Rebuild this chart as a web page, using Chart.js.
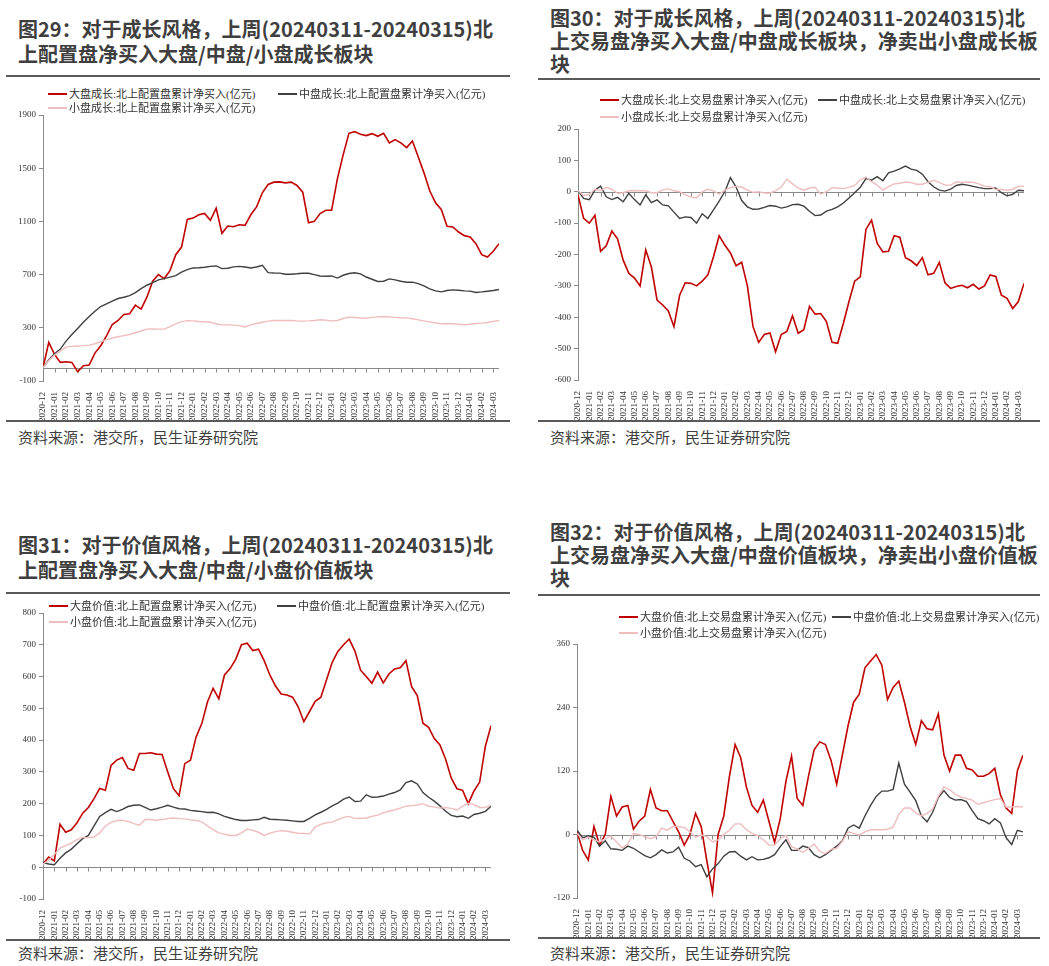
<!DOCTYPE html>
<html>
<head>
<meta charset="utf-8">
<script src="https://cdn.jsdelivr.net/npm/chart.js@4.4.1/dist/chart.umd.min.js"></script>
<style>
  html, body { margin: 0; padding: 0; background: #fff; }
  body { width: 1049px; height: 966px; position: relative; overflow: hidden; font-family: "Noto Sans CJK SC", sans-serif; }
  .title { position: absolute; font-weight: bold; font-size: 20px; color: #3f3f3f; white-space: nowrap; }
  .rule { position: absolute; height: 2px; background: #5a5a5a; }
  .src { position: absolute; font-size: 15px; line-height: 20px; color: #404040; white-space: nowrap; }
  .leg { position: absolute; font-family: "Liberation Serif", "Noto Sans CJK SC", serif; font-size: 11px; line-height: 14px; color: #333; white-space: nowrap; }
  .leg i { display: inline-block; width: 19px; height: 2px; vertical-align: middle; margin-right: 2px; position: relative; top: -1px; }
  canvas { position: absolute; }
</style>
</head>
<body>

<div class="title" style="left:18px;top:16px;line-height:25px">图29：对于成长风格，上周(20240311-20240315)北<br>上配置盘净买入大盘/中盘/小盘成长板块</div>
<div class="rule" style="left:6px;top:75px;width:504px"></div>
<div class="rule" style="left:6px;top:420px;width:504px"></div>
<div class="src" style="left:18px;top:427px">资料来源：港交所，民生证券研究院</div>

<div class="title" style="left:550px;top:6px;line-height:23px">图30：对于成长风格，上周(20240311-20240315)北<br>上交易盘净买入大盘/中盘成长板块，净卖出小盘成长板<br>块</div>
<div class="rule" style="left:538px;top:78px;width:502px"></div>
<div class="rule" style="left:538px;top:420px;width:502px"></div>
<div class="src" style="left:550px;top:427px">资料来源：港交所，民生证券研究院</div>

<div class="title" style="left:18px;top:532px;line-height:25px">图31：对于价值风格，上周(20240311-20240315)北<br>上配置盘净买入大盘/中盘/小盘价值板块</div>
<div class="rule" style="left:6px;top:592px;width:504px"></div>
<div class="rule" style="left:6px;top:939px;width:504px"></div>
<div class="src" style="left:18px;top:943px">资料来源：港交所，民生证券研究院</div>

<div class="title" style="left:550px;top:520px;line-height:23px">图32：对于价值风格，上周(20240311-20240315)北<br>上交易盘净买入大盘/中盘价值板块，净卖出小盘价值板<br>块</div>
<div class="rule" style="left:538px;top:594px;width:502px"></div>
<div class="rule" style="left:538px;top:937px;width:502px"></div>
<div class="src" style="left:550px;top:943px">资料来源：港交所，民生证券研究院</div>

<canvas id="c1" width="510" height="315" style="left:0;top:105px"></canvas>
<canvas id="c2" width="510" height="301" style="left:530px;top:119px"></canvas>
<canvas id="c3" width="510" height="337" style="left:0;top:603px"></canvas>
<canvas id="c4" width="510" height="304" style="left:530px;top:634px"></canvas>

<script>
// month tick labels, data points are twice a month
const months = ['2020-12','2021-01','2021-02','2021-03','2021-04','2021-05','2021-06','2021-07','2021-08','2021-09','2021-10','2021-11','2021-12',
  '2022-01','2022-02','2022-03','2022-04','2022-05','2022-06','2022-07','2022-08','2022-09','2022-10','2022-11','2022-12',
  '2023-01','2023-02','2023-03','2023-04','2023-05','2023-06','2023-07','2023-08','2023-09','2023-10','2023-11','2023-12',
  '2024-01','2024-02','2024-03'];

// 图29 成长 配置盘
const growthAllocLarge = [0,190,100,40,45,40,-30,15,20,110,
  165,240,325,355,400,405,470,440,530,650,
  700,670,730,850,907,1115,1125,1150,1160,1108,
  1200,1010,1065,1060,1075,1070,1150,1209,1315,1378,
  1395,1397,1390,1395,1370,1320,1090,1100,1159,1184,
  1184,1420,1600,1762,1775,1755,1745,1760,1740,1762,
  1690,1715,1690,1655,1705,1586,1465,1330,1240,1190,
  1063,1058,1020,993,983,932,850,832,875,932];
const growthAllocMid = [0,60,105,140,200,250,295,342,385,425,
  460,480,500,520,530,542,565,595,620,640,
  660,670,681,692,719,738,750,752,755,762,
  765,745,748,758,762,757,750,757,770,715,
  712,711,703,703,706,710,710,700,690,688,
  690,674,695,708,714,706,682,665,648,650,
  668,660,650,643,643,632,615,592,578,570,
  580,585,582,578,576,566,570,575,580,588];
const growthAllocSmall = [0,55,95,125,155,160,163,166,170,180,
  195,211,223,233,241,250,263,276,290,292,
  290,290,309,330,346,354,352,347,345,342,
  330,322,322,320,316,306,322,332,342,350,
  355,355,355,355,352,350,352,355,360,358,
  352,355,370,380,378,374,372,378,382,385,
  382,378,376,375,368,360,352,345,336,330,
  332,330,327,323,327,332,335,340,348,355];

// 图30 成长 交易盘
const growthTradeLarge = [-10,-85,-100,-75,-190,-172,-125,-150,-218,-260,
  -275,-300,-185,-240,-345,-361,-380,-430,-330,-290,
  -292,-300,-285,-265,-207,-140,-170,-195,-236,-225,
  -300,-430,-480,-455,-450,-510,-455,-445,-395,-451,
  -440,-365,-390,-388,-414,-480,-483,-420,-350,-285,
  -271,-120,-90,-165,-192,-190,-140,-145,-210,-220,
  -235,-210,-265,-260,-225,-290,-308,-302,-298,-306,
  -295,-310,-300,-265,-270,-330,-340,-372,-350,-292];
const growthTradeMid = [3,-21,-25,5,18,-16,-25,-18,-32,-5,
  -25,-42,-10,-35,-26,-42,-45,-65,-85,-80,
  -82,-100,-70,-85,-58,-30,0,45,15,-28,
  -48,-56,-55,-50,-44,-46,-52,-48,-41,-40,
  -46,-62,-76,-74,-62,-56,-48,-36,-20,-3,
  14,42,37,48,35,60,66,73,82,72,
  68,56,32,16,5,2,8,20,24,21,
  17,13,10,10,12,-3,-13,-8,5,3];
const growthTradeSmall = [3,-12,-8,8,3,14,8,-5,-3,3,
  4,3,3,-3,-3,6,9,3,0,-10,
  -17,-20,0,8,3,-8,5,13,17,15,
  5,-2,0,-4,-4,3,15,40,25,12,
  5,12,14,-8,0,13,12,10,14,20,
  38,47,32,21,5,16,25,27,31,29,
  24,24,30,36,30,21,21,31,30,31,
  30,25,18,16,7,8,4,8,17,18];

// 图31 价值 配置盘
const valueAllocLarge = [10,32,20,135,110,118,140,170,188,216,
  248,242,320,337,345,311,305,358,358,360,
  356,355,300,247,225,326,337,410,452,520,
  563,530,605,625,655,700,705,682,686,650,
  605,570,545,542,535,505,458,490,522,535,
  590,645,679,700,718,680,620,600,579,614,
  580,608,624,628,650,568,540,453,440,405,
  385,340,280,247,242,200,240,268,380,445];
const valueAllocMid = [15,10,8,28,45,57,74,90,100,130,
  160,172,182,175,182,191,195,196,188,180,
  184,189,195,189,184,183,179,177,175,172,
  173,168,160,155,150,147,147,149,150,157,
  151,150,149,148,146,144,144,154,165,173,
  182,193,202,214,221,207,208,228,220,221,
  224,230,235,243,266,272,262,235,220,208,
  193,176,163,159,161,154,166,170,176,192];
const valueAllocSmall = [10,22,40,60,68,76,87,94,93,95,
  108,130,141,147,148,144,137,132,150,150,
  148,150,153,155,153,152,149,147,143,130,
  118,108,104,100,100,108,120,116,110,100,
  107,112,115,113,110,107,106,105,126,135,
  140,142,150,157,160,153,154,155,160,164,
  171,176,180,186,192,194,196,200,192,190,
  186,188,185,180,192,201,197,188,188,195];

// 图32 价值 交易盘
const valueTradeLarge = [5,-30,-48,15,-20,0,72,35,52,55,
  10,25,35,85,50,45,45,25,5,-20,
  0,40,15,-50,-110,0,35,110,170,145,
  90,55,42,65,25,-15,30,100,148,68,
  55,110,160,175,170,140,95,150,205,250,
  265,315,328,340,320,255,278,290,250,204,
  170,215,200,198,228,150,120,150,150,125,
  122,110,110,115,125,75,50,40,120,150];
const valueTradeMid = [8,-6,-3,-5,-22,-12,-27,-28,-30,-22,
  -26,-33,-40,-44,-38,-29,-35,-33,-24,-45,
  -50,-61,-57,-80,-65,-55,-41,-33,-32,-41,
  -48,-42,-48,-47,-44,-38,-23,-10,-30,-30,
  -22,-25,-38,-44,-38,-30,-22,-12,12,18,
  12,35,55,72,82,82,85,135,95,80,
  64,35,24,42,70,83,70,65,66,62,
  45,30,26,20,30,22,-6,-19,8,5];
const valueTradeSmall = [2,-10,-5,-10,-14,-8,-3,-14,-25,-18,
  2,0,-4,-8,-4,12,8,15,15,13,
  5,-5,-1,-4,-14,-10,0,8,20,20,
  9,2,-2,-10,-20,-20,-8,-2,-23,-27,
  -34,-26,-18,-32,-36,-28,-26,-13,5,2,
  -1,5,9,9,9,10,14,38,50,50,
  41,35,40,48,72,90,85,76,71,68,
  65,57,60,63,66,68,52,52,53,52];

const RED = '#C00000', GRAY = '#404040', PINK = '#EFBDBD', AXIS = '#8a8a8a';
const tickFont = { family: 'Liberation Serif', size: 9 };

// horizontal line at 0 with month tick marks, as in the source charts
const zeroLine = {
  id: 'zeroLine',
  beforeDatasetsDraw(chart) {
    const { ctx, chartArea, scales: { x, y } } = chart;
    const y0 = Math.round(y.getPixelForValue(0)) + 0.5;
    ctx.save();
    ctx.strokeStyle = AXIS;
    ctx.lineWidth = 1;
    ctx.beginPath();
    ctx.moveTo(chartArea.left, y0);
    ctx.lineTo(chartArea.right, y0);
    x.ticks.forEach(t => {
      const px = Math.round(x.getPixelForValue(t.value)) + 0.5;
      ctx.moveTo(px, y0);
      ctx.lineTo(px, y0 + 4);
    });
    ctx.stroke();
    ctx.restore();
  }
};

function drawChart(id, series, yr, box, legend) {
  const colors = [RED, GRAY, PINK];
  const datasets = series.map((s, k) => ({
    label: s.label,
    data: s.values.map((v, i) => ({ x: i / 2, y: v })),
    borderColor: colors[k],
    borderWidth: k === 0 ? 1.6 : 1.4,
    pointRadius: 0,
    tension: 0,
    order: [3, 2, 1][k]
  }));

  new Chart(document.getElementById(id), {
    type: 'line',
    data: { datasets },
    plugins: [zeroLine],
    options: {
      responsive: false,
      animation: false,
      layout: { padding: { top: box.top, right: box.right, left: 0, bottom: 0 } },
      plugins: { legend: { display: false }, tooltip: { enabled: false } },
      scales: {
        x: {
          type: 'linear', min: 0, max: 39.5,
          grid: { display: false }, border: { display: false },
          afterFit: s => { s.height = box.xh; },
          ticks: {
            stepSize: 1, includeBounds: false, autoSkip: false,
            maxRotation: 90, minRotation: 90, padding: 3,
            color: '#333', font: tickFont,
            callback: v => months[v] || ''
          }
        },
        y: {
          min: yr[0], max: yr[1],
          afterFit: s => { s.width = box.yw; },
          border: { display: true, color: AXIS },
          grid: { drawOnChartArea: false, drawTicks: true, tickLength: 4, color: AXIS },
          ticks: { stepSize: yr[2], padding: 3, color: '#333', font: tickFont, callback: v => String(v) }
        }
      }
    }
  });

  // legend, two items on the first row, one on the second
  series.forEach((s, k) => {
    const d = document.createElement('div');
    d.className = 'leg';
    d.style.left = legend.x[k === 1 ? 1 : 0] + 'px';
    d.style.top = (legend.y[k === 2 ? 1 : 0] - 7) + 'px';
    d.innerHTML = '<i style="background:' + colors[k] + '"></i>' + s.label;
    document.body.appendChild(d);
  });
}

drawChart('c1', [
  { label: '大盘成长:北上配置盘累计净买入(亿元)', values: growthAllocLarge },
  { label: '中盘成长:北上配置盘累计净买入(亿元)', values: growthAllocMid },
  { label: '小盘成长:北上配置盘累计净买入(亿元)', values: growthAllocSmall }
], [-100, 1900, 400], { top: 10, right: 11, yw: 43, xh: 39 }, { x: [48, 278], y: [94, 108] });

drawChart('c2', [
  { label: '大盘成长:北上交易盘累计净买入(亿元)', values: growthTradeLarge },
  { label: '中盘成长:北上交易盘累计净买入(亿元)', values: growthTradeMid },
  { label: '小盘成长:北上交易盘累计净买入(亿元)', values: growthTradeSmall }
], [-600, 200, 100], { top: 10, right: 16, yw: 48, xh: 40 }, { x: [600, 818], y: [100, 117] });

drawChart('c3', [
  { label: '大盘价值:北上配置盘累计净买入(亿元)', values: valueAllocLarge },
  { label: '中盘价值:北上配置盘累计净买入(亿元)', values: valueAllocMid },
  { label: '小盘价值:北上配置盘累计净买入(亿元)', values: valueAllocSmall }
], [-100, 800, 100], { top: 10, right: 19, yw: 43, xh: 41 }, { x: [49, 277], y: [606, 622] });

drawChart('c4', [
  { label: '大盘价值:北上交易盘累计净买入(亿元)', values: valueTradeLarge },
  { label: '中盘价值:北上交易盘累计净买入(亿元)', values: valueTradeMid },
  { label: '小盘价值:北上交易盘累计净买入(亿元)', values: valueTradeSmall }
], [-120, 360, 120], { top: 10, right: 17, yw: 47, xh: 40 }, { x: [619, 832], y: [617, 633] });
</script>
</body>
</html>
